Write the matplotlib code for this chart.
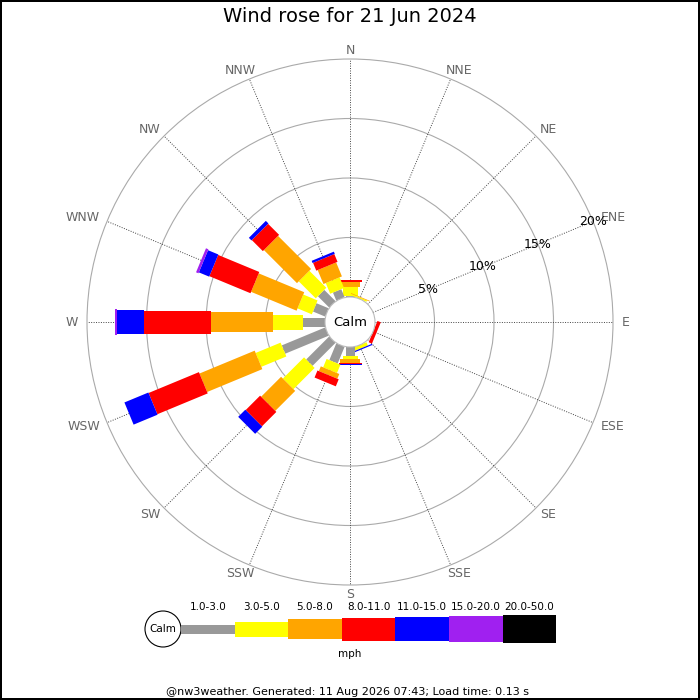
import numpy as np
import matplotlib.pyplot as plt
from matplotlib.patches import Circle
from matplotlib.transforms import Affine2D

directions = ['N', 'NNE', 'NE', 'ENE', 'E', 'ESE', 'SE', 'SSE',
              'S', 'SSW', 'SW', 'WSW', 'W', 'WNW', 'NW', 'NNW']
bands = ['1.0-3.0', '3.0-5.0', '5.0-8.0', '8.0-11.0', '11.0-15.0', '15.0-20.0', '20.0-50.0']
band_colors = ['#999999', '#ffff00', '#ffa500', '#ff0000', '#0000ff', '#a020f0', '#000000']

# % of the day in each speed band, one value per direction (N .. NNW)
pct_1_3 = [0.10, 0, 0, 0, 0, 0, 0, 0, 0.76, 1.52, 2.73, 3.95, 1.82, 1.11, 1.34, 0.73]
pct_3_5 = [0.77, 0.12, 0, 0, 0, 0, 0, 0.30, 0.29, 0.76, 2.52, 2.27, 2.52, 1.30, 2.02, 0.97]
pct_5_8 = [0.42, 0.06, 0, 0, 0, 0, 0, 0, 0.29, 0.43, 2.37, 5.02, 5.24, 4.14, 3.93, 1.27]
pct_8_11 = [0.18, 0, 0, 0, 0, 0.30, 0, 0, 0.08, 0.64, 1.71, 4.58, 5.63, 3.74, 1.31, 0.71]
pct_11_15 = [0, 0, 0, 0, 0, 0, 0, 0.10, 0.13, 0, 0.85, 2.18, 2.29, 0.94, 0.31, 0.20]
pct_15_20 = [0, 0, 0, 0, 0, 0, 0, 0, 0, 0, 0, 0, 0.15, 0.22, 0, 0]
pct_20_50 = [0] * 16
ring_pcts = [5, 10, 15, 20]

title = 'Wind rose for 21 Jun 2024'
footer = '@nw3weather. Generated: 11 Aug 2026 07:43; Load time: 0.13 s'

# layout (pixels)
PX = 11.9                      # pixels per percent
CALM = 25 / PX                 # calm circle radius, in % units
band_w = np.array([9, 15, 20, 23, 24, 26, 28])   # bar thickness per band, px
RLAB = 272 / PX

table = np.array([pct_1_3, pct_3_5, pct_5_8, pct_8_11, pct_11_15, pct_15_20, pct_20_50]).T

fig = plt.figure(figsize=(7, 7), dpi=100, facecolor='white', edgecolor='black', linewidth=1.5)
ax = fig.add_axes([0, 0, 1, 1])
ax.set_xlim(-350 / PX, 350 / PX)
ax.set_ylim(-378 / PX, 322 / PX)
ax.axis('off')

# rings and spokes
for p in ring_pcts:
    ax.add_patch(Circle((0, 0), CALM + p, fill=False, ec='#aaaaaa', lw=0.8, zorder=1))
rmax = CALM + ring_pcts[-1]
for i, d in enumerate(directions):
    th = np.radians(90 - i * 22.5)
    ax.plot([CALM * np.cos(th), rmax * np.cos(th)], [CALM * np.sin(th), rmax * np.sin(th)],
            color='#444444', lw=0.7, ls=(0, (1, 1.5)), zorder=1)

# stacked bars, one rotated barh per direction
for i, d in enumerate(directions):
    vals = table[i]
    lefts = CALM + np.concatenate([[0], np.cumsum(vals)[:-1]])
    tr = Affine2D().rotate_deg(90 - i * 22.5) + ax.transData
    ax.barh(np.zeros(len(vals)), vals, left=lefts, height=band_w / PX,
            color=band_colors, linewidth=0, transform=tr, zorder=3)

ax.add_patch(Circle((0, 0), CALM, fc='white', ec='#bbbbbb', lw=0.8, zorder=5))
ax.text(0, 0, 'Calm', fontsize=9.5, ha='center', va='center', zorder=6)

# ring labels along ENE
th = np.radians(22.5)
for p in ring_pcts:
    r = CALM + p
    ax.text(r * np.cos(th), r * np.sin(th), f'{p}%', fontsize=9, ha='center', va='center', zorder=7)

# compass labels
labels = []
for i, d in enumerate(directions):
    th = np.radians(90 - i * 22.5)
    t = ax.text(RLAB * np.cos(th), RLAB * np.sin(th), d, fontsize=9, color='#666666',
                ha='center', va='center', zorder=2)
    labels.append((t, th))
fig.canvas.draw()
rend = fig.canvas.get_renderer()
for t, th in labels:
    w = t.get_window_extent(rend).width
    x, y = t.get_position()
    t.set_position((x + w / 2 * np.cos(th) / PX, y))

fig.text(0.5, 1 - 17 / 700, title, fontsize=14, ha='center', va='center')

# legend strip
lax = fig.add_axes([0, 0, 1, 1])
lax.set_xlim(0, 700)
lax.set_ylim(700, 0)
lax.axis('off')
lax.patch.set_alpha(0)
seg = 53.6
x0 = 181
lax.add_patch(Circle((163, 629), 18, fc='white', ec='black', lw=0.8))
lax.text(163, 629, 'Calm', fontsize=7.5, ha='center', va='center')
lefts = x0 + seg * np.arange(len(bands))
lax.barh(np.full(len(bands), 629), [seg] * len(bands), left=lefts, height=band_w,
         color=band_colors, linewidth=0)
for lx, b in zip(lefts, bands):
    lax.text(lx + seg / 2, 607, b, fontsize=7.5, ha='center', va='center')
lax.text(350, 654, 'mph', fontsize=7.5, ha='center', va='center')
lax.text(348, 692, footer, fontsize=8, ha='center', va='center')

fig.savefig('out.png', dpi=100, facecolor='white', edgecolor='black')
